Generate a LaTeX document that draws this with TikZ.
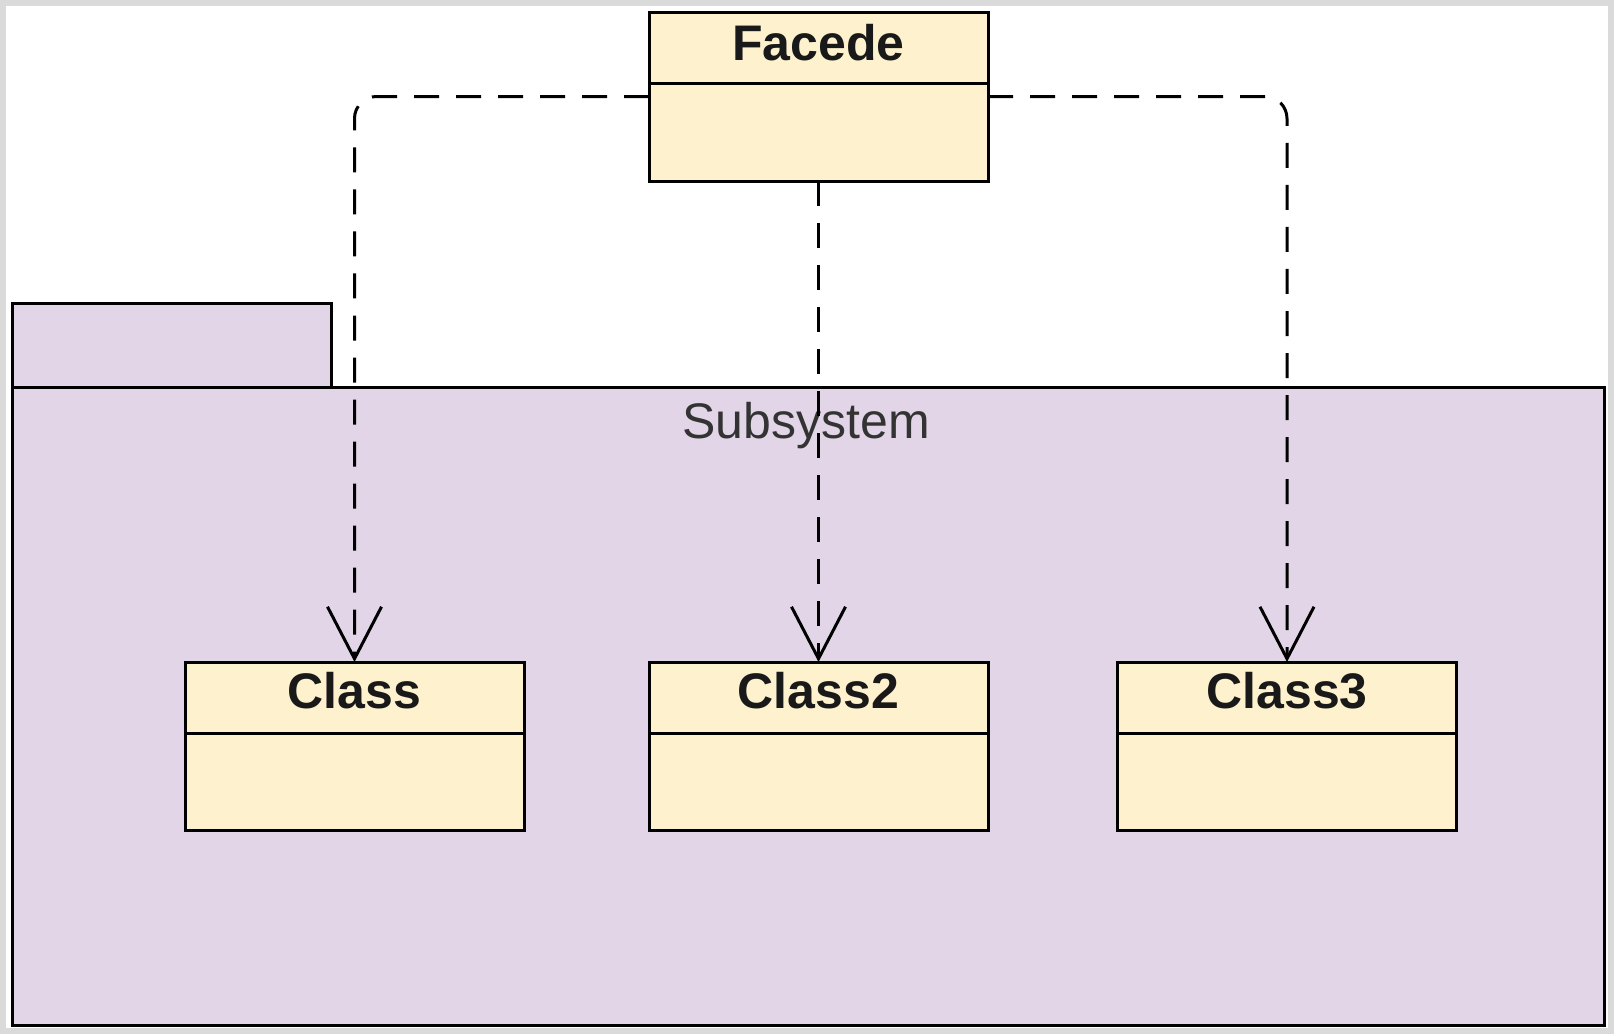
\documentclass[tikz,border=0pt]{standalone}
\usepackage{fontspec}
\setmainfont{Liberation Sans}
\usetikzlibrary{arrows.meta}
\definecolor{classfill}{RGB}{253,241,206}
\definecolor{pkgfill}{RGB}{225,213,231}
\definecolor{framegray}{RGB}{218,218,218}
\definecolor{labelgray}{RGB}{51,51,51}
\tikzset{
  classbox/.style={draw=black, fill=classfill, line width=3pt, minimum width=339pt, minimum height=168pt, inner sep=0pt, outer sep=0pt},
  classtitle/.style={font=\bfseries\fontsize{50}{60}\selectfont, text=black!90, anchor=base, inner sep=0pt},
  pkgbox/.style={draw=black, fill=pkgfill, line width=3pt, inner sep=0pt, outer sep=0pt},
  dep/.style={line width=3pt, dash pattern=on 25pt off 17pt, rounded corners=22pt,
    -{Straight Barb[length=52pt, width=54pt, line width=3pt]}},
  divider/.style={line width=3pt}
}
\begin{document}
\begin{tikzpicture}[x=1pt, y=-1pt]
  % page and its light frame
  \useasboundingbox (0,0) rectangle (1614,1034);
  \fill[white] (0,0) rectangle (1614,1034);
  \draw[framegray, line width=6pt] (3,3) rectangle (1611,1031);

  % package: tab and body
  \node[pkgbox, minimum width=319pt, minimum height=84pt] (tab) at (171.5,345) {};
  \node[pkgbox, minimum width=1592pt, minimum height=638pt] (pkg) at (808,706) {};
  \node[font=\fontsize{50}{60}\selectfont, text=labelgray, anchor=base, inner sep=0pt] (pkglabel) at (806,438) {Subsystem};

  % facade class
  \node[classbox, minimum height=169pt] (F) at (818.5,96.5) {};
  \draw[divider] ([yshift=-71pt]F.north west) -- ([yshift=-71pt]F.north east);
  \node[classtitle] (Ft) at ([yshift=-48pt]F.north) {Facede};

  % subsystem classes
  \node[classbox] (C1) at (354.5,746) {};
  \node[classbox] (C2) at (818.5,746) {};
  \node[classbox] (C3) at (1287,746) {};
  \foreach \c/\t in {C1/Class, C2/Class2, C3/Class3}{
    \draw[divider] ([yshift=-71pt]\c.north west) -- ([yshift=-71pt]\c.north east);
    \node[classtitle] (\c t) at ([yshift=-46pt]\c.north) {\t};
  }

  % dependencies
  \draw[dep] (F.west) -| (C1.north);
  \draw[dep] (F.south) -- (C2.north);
  \draw[dep] (F.east) -| (C3.north);
\end{tikzpicture}
\end{document}
